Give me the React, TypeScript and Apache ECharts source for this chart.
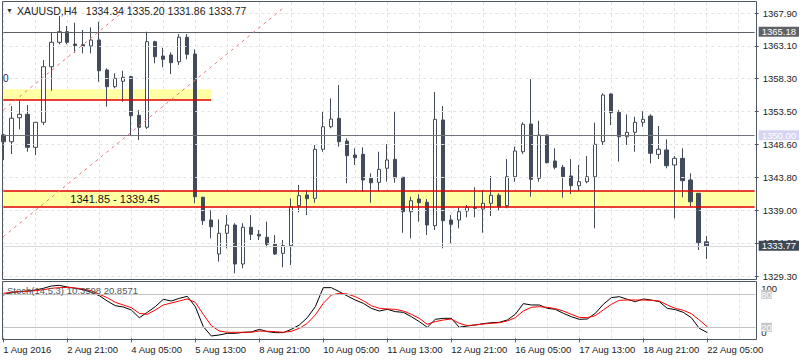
import React, { useEffect, useRef } from 'react';
import * as echarts from 'echarts';

// XAUUSD H4 bars: [open, close, low, high]
const candles: number[][] = [
  [1350.02, 1349.04, 1346.36, 1350.2],
  [1349.04, 1352.48, 1347.24, 1354.28],
  [1352.56, 1353.06, 1350.86, 1355.06],
  [1353.06, 1348.22, 1347.57, 1354.43],
  [1348.22, 1351.89, 1347.09, 1351.95],
  [1351.89, 1360.05, 1351.49, 1361.03],
  [1360.05, 1363.63, 1356.53, 1365.04],
  [1363.63, 1365.19, 1363.34, 1367.49],
  [1365.19, 1363.63, 1363.34, 1366.02],
  [1363.38, 1363.16, 1362.1, 1366.51],
  [1363.28, 1363.04, 1362.02, 1365.44],
  [1363.09, 1363.97, 1362.02, 1365.83],
  [1363.97, 1359.46, 1357.85, 1366.65],
  [1359.57, 1357.12, 1354.18, 1359.82],
  [1357.12, 1358.35, 1356.88, 1359.08],
  [1357.91, 1358.49, 1354.91, 1359.46],
  [1358.58, 1352.86, 1350.02, 1358.73],
  [1352.92, 1351.16, 1349.29, 1353.69],
  [1351.16, 1363.72, 1350.91, 1365.19],
  [1363.72, 1361.52, 1360.55, 1363.87],
  [1361.62, 1361.14, 1359.96, 1362.84],
  [1361.77, 1360.64, 1358.98, 1362.16],
  [1360.78, 1364.37, 1360.3, 1364.85],
  [1364.37, 1361.87, 1361.14, 1364.85],
  [1361.91, 1340.97, 1340.0, 1362.6],
  [1340.88, 1337.45, 1336.81, 1340.97],
  [1337.55, 1336.56, 1334.86, 1339.02],
  [1332.56, 1335.6, 1331.43, 1337.65],
  [1335.6, 1336.81, 1333.39, 1338.28],
  [1336.81, 1331.09, 1329.73, 1337.06],
  [1331.09, 1336.48, 1330.46, 1337.06],
  [1336.48, 1335.45, 1334.61, 1338.28],
  [1335.45, 1335.2, 1334.61, 1336.08],
  [1335.01, 1333.98, 1333.54, 1337.3],
  [1333.98, 1332.56, 1332.41, 1335.35],
  [1332.66, 1333.78, 1330.61, 1334.61],
  [1333.78, 1339.5, 1330.94, 1340.73],
  [1339.65, 1341.12, 1338.7, 1342.69],
  [1341.22, 1340.68, 1338.28, 1341.95],
  [1340.73, 1347.93, 1340.09, 1348.56],
  [1347.93, 1351.24, 1347.57, 1353.55],
  [1351.24, 1352.37, 1351.01, 1355.41],
  [1352.48, 1349.04, 1348.31, 1357.36],
  [1349.14, 1346.99, 1342.93, 1349.54],
  [1347.09, 1346.69, 1345.62, 1348.07],
  [1347.19, 1343.42, 1341.7, 1348.22],
  [1343.67, 1343.02, 1340.09, 1344.4],
  [1343.08, 1344.99, 1341.8, 1347.57],
  [1345.14, 1346.36, 1343.17, 1348.7],
  [1346.46, 1343.76, 1343.02, 1353.45],
  [1343.82, 1338.77, 1335.68, 1343.85],
  [1338.77, 1340.38, 1334.86, 1340.97],
  [1340.63, 1340.09, 1337.3, 1341.32],
  [1340.15, 1336.81, 1335.35, 1340.63],
  [1336.71, 1352.33, 1336.08, 1356.34],
  [1352.23, 1337.45, 1333.39, 1354.28],
  [1337.55, 1336.92, 1334.13, 1338.28],
  [1337.55, 1338.77, 1336.33, 1339.41],
  [1338.87, 1339.41, 1337.94, 1339.75],
  [1339.41, 1339.27, 1337.94, 1342.35],
  [1339.16, 1340.0, 1335.68, 1341.95],
  [1340.0, 1341.17, 1338.13, 1344.01],
  [1341.17, 1339.5, 1338.96, 1341.47],
  [1339.65, 1343.9, 1339.27, 1346.5],
  [1343.9, 1347.68, 1343.17, 1348.31],
  [1347.57, 1351.6, 1347.24, 1351.89],
  [1351.64, 1343.52, 1340.97, 1358.24],
  [1343.67, 1350.02, 1343.17, 1352.12],
  [1350.02, 1345.96, 1345.87, 1350.1],
  [1346.21, 1345.28, 1344.99, 1348.07],
  [1345.28, 1343.9, 1340.82, 1345.62],
  [1344.01, 1342.58, 1341.36, 1346.5],
  [1342.58, 1343.17, 1341.8, 1345.62],
  [1343.17, 1343.9, 1342.93, 1346.94],
  [1343.9, 1348.66, 1336.33, 1351.83],
  [1349.04, 1355.9, 1348.56, 1356.15],
  [1356.04, 1353.3, 1351.49, 1356.15],
  [1353.36, 1349.77, 1346.11, 1353.69],
  [1349.77, 1350.42, 1348.56, 1353.06],
  [1350.42, 1351.89, 1347.57, 1352.71],
  [1351.89, 1352.33, 1351.24, 1353.55],
  [1352.81, 1347.34, 1345.87, 1353.06],
  [1347.19, 1347.93, 1346.5, 1351.35],
  [1347.83, 1345.52, 1345.14, 1349.39],
  [1345.62, 1346.6, 1337.8, 1346.94],
  [1346.6, 1343.32, 1340.88, 1348.07],
  [1343.42, 1340.23, 1339.5, 1344.4],
  [1341.47, 1334.22, 1333.15, 1341.5],
  [1334.34, 1333.77, 1331.86, 1335.2],
];

const stochK: number[] = [
  78.7, 83.6, 84.8, 86.0, 87.8, 90.9, 95.1, 96.3, 93.3, 90.9,
  88.4, 83.6, 77.5, 67.8, 59.3, 56.9, 51.5, 37.5, 47.2, 57.5,
  70.9, 67.8, 72.7, 76.3, 57.5, 21.2, 4.2, 6.0, 9.0, 9.0,
  10.9, 11.5, 16.3, 12.1, 10.3, 10.3, 16.3, 24.2, 37.5, 57.5,
  92.1, 92.1, 84.8, 76.9, 69.6, 63.6, 54.5, 49.6, 52.7, 48.5,
  47.2, 39.3, 30.3, 20.0, 34.5, 36.3, 36.3, 20.0, 22.4, 24.2,
  26.6, 28.4, 29.0, 33.3, 43.6, 63.0, 60.6, 60.6, 54.5, 52.7,
  45.4, 39.3, 34.5, 35.1, 45.4, 61.8, 73.9, 75.7, 70.9, 66.6,
  71.5, 69.6, 66.6, 54.5, 52.1, 47.2, 37.5, 18.1, 10.36,
];

const stochD: number[] = [
  81.8, 83.6, 84.8, 85.4, 86.6, 88.4, 90.9, 92.1, 92.7, 91.5,
  89.6, 86.6, 79.9, 73.9, 65.4, 60.6, 55.7, 45.4, 43.6, 51.5,
  60.6, 64.2, 67.8, 71.5, 65.4, 43.6, 23.0, 13.3, 10.9, 10.9,
  10.9, 10.9, 13.3, 12.7, 12.1, 10.9, 12.7, 18.1, 27.2, 42.4,
  63.6, 78.7, 81.8, 80.6, 75.7, 68.4, 59.3, 54.5, 53.3, 52.7,
  49.6, 43.6, 36.3, 25.4, 30.3, 33.3, 35.1, 27.2, 23.0, 24.2,
  26.0, 27.2, 28.4, 31.5, 37.5, 49.6, 56.3, 57.5, 56.3, 53.9,
  49.6, 43.6, 38.1, 37.5, 41.2, 51.5, 61.8, 69.0, 69.6, 69.6,
  69.6, 69.0, 67.8, 60.6, 54.5, 50.9, 44.8, 33.3, 20.86,
];

const timeLabels = [
  '1 Aug 2016', '2 Aug 21:00', '4 Aug 05:00', '5 Aug 13:00', '8 Aug 21:00', '10 Aug 05:00',
  '11 Aug 13:00', '12 Aug 21:00', '16 Aug 05:00', '17 Aug 13:00', '18 Aug 21:00', '22 Aug 05:00',
];
const LABEL_EVERY = 8;
const GRID_EVERY = 4;
const TOTAL_SLOTS = 95;
const barSlots = Array.from({ length: TOTAL_SLOTS }, (_, i) => String(i));

const priceTicks = [1367.9, 1363.1, 1358.3, 1353.5, 1348.6, 1343.8, 1339.0, 1334.2, 1329.3];
const priceMin = 1328.89;
const priceMax = 1369.55;
const bandZone = [1341.85, 1339.45];
const upperZone = [1356.73, 1355.16];
const upperZoneEnd = '26';
const resistance = 1365.18;
const pivot = 1350.0;
const lastPrice = 1333.77;
const channelLower: [string, number][] = [['0', 1335.1], ['35', 1368.64]];
const channelUpper: [string, number][] = [['0', 1353.69], ['16', 1369.11]];
const stochLevels = [80, 20];
const headerText = 'XAUUSD,H4   1334.34 1335.20 1331.86 1333.77';
const stochTitle = 'Stoch(14,5,3) 10.3598 20.8571';

const SANS = "'Liberation Sans', Arial, sans-serif";
const FS = 9.5;
const DARK = '#414b59';
const GRIDC = '#e3e3e3';
const FRAME = '#4f5761';

function tag(text: string, bg: string) {
  return {
    show: true,
    position: 'end',
    formatter: text,
    backgroundColor: bg,
    color: '#fff',
    padding: [0, 3],
    lineHeight: 10,
    distance: 4,
    fontSize: FS,
    fontFamily: SANS,
  };
}

export default function App() {
  const ref = useRef<HTMLDivElement>(null);
  useEffect(() => {
    document.body.style.margin = '0';
    if (!ref.current) return;
    const chart = echarts.init(ref.current, undefined, { renderer: 'svg' });
    const closes = candles.map((c) => c[1]);
    const hidden = { show: false };
    const splitEvery = {
      show: true,
      interval: (i: number) => i % GRID_EVERY === 0,
      lineStyle: { color: GRIDC, type: [3, 3], width: 1 },
    };

    const option: any = {
      animation: false,
      backgroundColor: '#ffffff',
      textStyle: { fontFamily: SANS },
      grid: [
        { left: 3.3, right: 44.7, top: 2, height: 277 },
        { left: 3.3, right: 44.7, top: 281.5, height: 58 },
      ],
      xAxis: [
        {
          type: 'category', gridIndex: 0, data: barSlots, boundaryGap: false,
          axisLine: hidden, axisTick: hidden, axisLabel: hidden, splitLine: splitEvery,
        },
        {
          type: 'category', gridIndex: 1, data: barSlots, boundaryGap: false,
          axisLine: hidden,
          axisTick: { show: true, interval: (i: number) => i % LABEL_EVERY === 0, length: 4, lineStyle: { color: FRAME } },
          axisLabel: {
            show: true,
            interval: (i: number) => i % LABEL_EVERY === 0,
            formatter: (_v: string, i: number) => timeLabels[i / LABEL_EVERY] || '',
            align: 'left',
            color: '#222',
            fontSize: FS,
            fontFamily: SANS,
            margin: 5,
          },
          splitLine: splitEvery,
        },
      ],
      yAxis: [
        {
          type: 'value', gridIndex: 0, position: 'right', min: priceMin, max: priceMax,
          splitLine: hidden, axisLine: hidden,
          axisTick: { show: true, customValues: priceTicks, length: 4, lineStyle: { color: FRAME } },
          axisLabel: {
            show: true, customValues: priceTicks,
            formatter: (v: number) => v.toFixed(2),
            color: '#222', fontSize: FS, fontFamily: SANS, margin: 8,
          },
        },
        {
          type: 'value', gridIndex: 1, position: 'right', min: -2.2, max: 103.3,
          splitLine: hidden, axisLine: hidden, axisTick: hidden,
          axisLabel: {
            show: true, customValues: [0, 100],
            formatter: (v: number) => (v === 100 ? '{a|100}' : '{b|0}'),
            color: '#222', fontSize: FS, fontFamily: SANS, margin: 6,
            rich: {
              a: { padding: [11, 0, 0, 0], fontSize: FS, fontFamily: SANS, color: '#222' },
              b: { padding: [0, 0, 12, 0], fontSize: FS, fontFamily: SANS, color: '#222' },
            },
          },
        },
      ],
      graphic: [
        {
          type: 'rect', z: 20, silent: true,
          shape: { x: 2.5, y: 1.5, width: 754, height: 278 },
          style: { fill: 'none', stroke: FRAME, lineWidth: 1 },
        },
        {
          type: 'rect', z: 20, silent: true,
          shape: { x: 2.5, y: 281.5, width: 754, height: 58 },
          style: { fill: 'none', stroke: FRAME, lineWidth: 1 },
        },
        {
          type: 'text', left: 6, top: 7, z: 20,
          style: { text: '▼', font: '7px ' + SANS, fill: '#333' },
        },
        {
          type: 'text', left: 17, top: 5, z: 20,
          style: { text: headerText, font: '10.5px ' + SANS, fill: '#222' },
        },
        {
          type: 'text', left: 3, top: 73, z: 20,
          style: { text: '0', font: '10px ' + SANS, fill: '#1c1c70' },
        },
        {
          type: 'text', left: 7, top: 285, z: 20,
          style: { text: stochTitle, font: FS + 'px ' + SANS, fill: '#555' },
        },
      ],
      series: [
        {
          name: 'objects', type: 'line', xAxisIndex: 0, yAxisIndex: 0, z: 1,
          data: closes, showSymbol: false, symbol: 'none', silent: true,
          lineStyle: { opacity: 0 },
          markArea: {
            silent: true,
            itemStyle: { color: '#ffffa3' },
            data: [
              [
                {
                  yAxis: bandZone[0],
                  label: {
                    show: true, position: 'insideLeft', distance: 0, offset: [67, 0],
                    formatter: `${bandZone[0].toFixed(2)} - ${bandZone[1].toFixed(2)}`,
                    color: '#111', fontSize: 11, fontFamily: SANS,
                  },
                },
                { yAxis: bandZone[1] },
              ],
              [
                { xAxis: '0', yAxis: upperZone[0], label: { show: false } },
                { xAxis: upperZoneEnd, yAxis: upperZone[1] },
              ],
            ],
          },
          markLine: {
            silent: true,
            symbol: ['none', 'none'],
            label: { show: false },
            data: [
              ...priceTicks.map((v) => ({
                yAxis: v, label: { show: false },
                lineStyle: { color: GRIDC, type: [3, 3], width: 1 },
              })),
              { yAxis: lastPrice, lineStyle: { color: '#d9d9d9', type: 'solid', width: 1 }, label: tag(lastPrice.toFixed(2), '#3f4955') },
              { yAxis: pivot, lineStyle: { color: '#74747f', type: 'solid', width: 1 }, label: tag(pivot.toFixed(2), '#d5d5f3') },
              { yAxis: resistance, lineStyle: { color: '#5c6066', type: 'solid', width: 1 }, label: tag(resistance.toFixed(2), '#5f6266') },
              { yAxis: bandZone[0], lineStyle: { color: '#e00000', type: 'solid', width: 1.5 }, label: { show: false } },
              { yAxis: bandZone[1], lineStyle: { color: '#e00000', type: 'solid', width: 1.5 }, label: { show: false } },
              [
                { coord: ['0', upperZone[1]], lineStyle: { color: '#e00000', type: 'solid', width: 1.5 }, label: { show: false } },
                { coord: [upperZoneEnd, upperZone[1]] },
              ],
              [
                { coord: channelLower[0], lineStyle: { color: '#f07878', type: [3, 4], width: 1 }, label: { show: false } },
                { coord: channelLower[1] },
              ],
              [
                { coord: channelUpper[0], lineStyle: { color: '#f07878', type: [3, 4], width: 1 }, label: { show: false } },
                { coord: channelUpper[1] },
              ],
            ],
          },
        },
        {
          name: 'XAUUSD', type: 'candlestick', xAxisIndex: 0, yAxisIndex: 0, z: 3,
          data: candles, barWidth: 4,
          itemStyle: { color: '#ffffff', color0: DARK, borderColor: DARK, borderColor0: DARK, borderWidth: 1 },
        },
        {
          name: 'levels', type: 'line', xAxisIndex: 1, yAxisIndex: 1, z: 1,
          data: stochK, showSymbol: false, symbol: 'none', silent: true,
          lineStyle: { opacity: 0 },
          markLine: {
            silent: true,
            symbol: ['none', 'none'],
            data: stochLevels.map((v) => ({
              yAxis: v,
              lineStyle: { color: '#c2c2c2', type: 'solid', width: 1 },
              label: {
                show: true, position: 'end', formatter: String(v), backgroundColor: '#c6c6c6',
                color: '#fff', padding: [0, 0], lineHeight: 9, distance: 6, fontSize: FS, fontFamily: SANS,
              },
            })),
          },
        },
        {
          name: '%K', type: 'line', xAxisIndex: 1, yAxisIndex: 1, z: 3,
          data: stochK, showSymbol: false, symbol: 'none',
          lineStyle: { color: '#000000', width: 1 },
        },
        {
          name: '%D', type: 'line', xAxisIndex: 1, yAxisIndex: 1, z: 4,
          data: stochD, showSymbol: false, symbol: 'none',
          lineStyle: { color: '#ff0000', width: 1 },
        },
      ],
    };
    chart.setOption(option);
    return () => chart.dispose();
  }, []);
  return <div ref={ref} style={{ width: 800, height: 360 }} />;
}
